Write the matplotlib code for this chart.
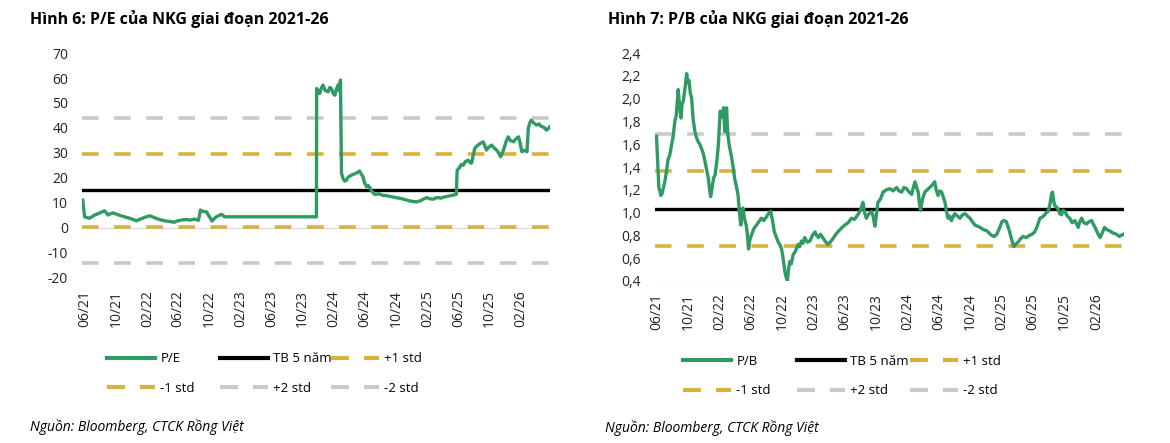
import pandas as pd
import matplotlib
matplotlib.use("Agg")
import matplotlib.pyplot as plt
import matplotlib.dates as mdates
from matplotlib.lines import Line2D
from matplotlib.ticker import FuncFormatter

plt.rcParams['font.family'] = ['Open Sans', 'DejaVu Sans']

# P/E cua NKG (doc tu hinh)
pe_dates = ['2021-05-25', '2021-06-01', '2021-06-10', '2021-06-20', '2021-07-01', '2021-07-10',
            '2021-07-25', '2021-08-05', '2021-08-18', '2021-08-25', '2021-09-01', '2021-09-10',
            '2021-09-20', '2021-10-05', '2021-10-22', '2021-11-10', '2021-11-28', '2021-12-20',
            '2022-01-10', '2022-01-25', '2022-02-11', '2022-02-28', '2022-03-12', '2022-03-28',
            '2022-04-15', '2022-05-01', '2022-05-18', '2022-06-01', '2022-06-14', '2022-07-01',
            '2022-07-20', '2022-08-04', '2022-08-20', '2022-08-28', '2022-09-08', '2022-09-20',
            '2022-10-01', '2022-10-12', '2022-10-20', '2022-10-29', '2022-11-10', '2022-11-18',
            '2022-12-01', '2023-11-24', '2023-11-25', '2023-11-30', '2023-12-07', '2023-12-13',
            '2023-12-20', '2023-12-28', '2024-01-09', '2024-01-15', '2024-01-22', '2024-01-28',
            '2024-02-04', '2024-02-10', '2024-02-17', '2024-02-22', '2024-02-26', '2024-03-01',
            '2024-03-08', '2024-03-14', '2024-03-20', '2024-03-28', '2024-04-09', '2024-04-20',
            '2024-05-01', '2024-05-11', '2024-05-17', '2024-05-24', '2024-05-30', '2024-06-07',
            '2024-06-13', '2024-06-20', '2024-06-28', '2024-07-09', '2024-07-25', '2024-08-10',
            '2024-08-24', '2024-09-15', '2024-10-01', '2024-10-16', '2024-11-05', '2024-11-25',
            '2024-12-10', '2024-12-20', '2025-01-05', '2025-01-15', '2025-01-29', '2025-02-10',
            '2025-02-24', '2025-03-05', '2025-03-13', '2025-03-25', '2025-04-05', '2025-04-15',
            '2025-04-28', '2025-05-11', '2025-05-24', '2025-05-27', '2025-06-05', '2025-06-12',
            '2025-06-20', '2025-06-28', '2025-07-09', '2025-07-15', '2025-07-22', '2025-07-28',
            '2025-08-04', '2025-08-10', '2025-08-17', '2025-08-26', '2025-09-06', '2025-09-12',
            '2025-09-19', '2025-09-27', '2025-10-09', '2025-10-18', '2025-10-28', '2025-11-05',
            '2025-11-13', '2025-11-22', '2025-11-30', '2025-12-06', '2025-12-13', '2025-12-20',
            '2026-01-02', '2026-01-12', '2026-01-22', '2026-01-28', '2026-02-04', '2026-02-14',
            '2026-02-24', '2026-03-01', '2026-03-07', '2026-03-13', '2026-03-22', '2026-04-02',
            '2026-04-12', '2026-04-20', '2026-04-28', '2026-05-05', '2026-05-11', '2026-05-17',
            '2026-05-24']
pe_values = [11.0, 4.3, 4.0, 3.7, 4.4, 5.0,
             5.6, 6.1, 6.7, 5.9, 5.0, 5.5,
             5.9, 5.3, 4.7, 4.1, 3.6, 2.7,
             3.6, 4.2, 4.7, 4.0, 3.5, 3.0,
             2.6, 2.4, 2.1, 2.7, 3.0, 3.2,
             3.0, 3.4, 2.9, 7.0, 6.4, 6.3,
             4.5, 2.6, 3.5, 4.3, 4.9, 5.3,
             4.3, 4.3, 55.8, 54.6, 53.8, 56.0,
             57.2, 55.0, 54.5, 56.2, 55.8, 54.0,
             53.1, 55.5, 57.2, 54.8, 59.2, 21.7,
             19.5, 18.6, 19.0, 20.3, 21.0, 21.5,
             22.0, 22.7, 21.5, 20.4, 18.0, 16.4,
             16.9, 16.0, 14.5, 13.3, 13.5, 12.9,
             12.8, 12.3, 12.0, 11.7, 11.2, 10.6,
             10.4, 10.3, 10.8, 11.4, 12.0, 11.5,
             11.4, 11.9, 12.0, 11.8, 12.2, 12.4,
             12.7, 13.0, 13.3, 23.0, 24.0, 25.3,
             25.0, 26.5, 27.0, 26.2, 25.8, 28.5,
             31.8, 32.5, 33.1, 33.8, 34.4, 32.8,
             31.1, 32.2, 33.1, 32.0, 31.1, 30.0,
             28.4, 30.5, 33.1, 35.0, 36.4, 35.0,
             34.4, 35.6, 36.4, 34.0, 30.4, 31.0,
             30.4, 39.8, 42.0, 43.1, 42.0, 41.1,
             41.6, 40.6, 40.4, 39.8, 39.1, 39.6,
             40.4]
pe_mean = 14.9
pe_std = 14.6

# P/B cua NKG
pb_dates = ['2021-06-01', '2021-06-04', '2021-06-07', '2021-06-10', '2021-06-14', '2021-06-18',
            '2021-06-23', '2021-06-28', '2021-07-03', '2021-07-09', '2021-07-16', '2021-07-22',
            '2021-07-29', '2021-08-04', '2021-08-11', '2021-08-17', '2021-08-24', '2021-08-29',
            '2021-09-04', '2021-09-08', '2021-09-13', '2021-09-20', '2021-09-26', '2021-09-30',
            '2021-10-05', '2021-10-10', '2021-10-15', '2021-10-21', '2021-10-28', '2021-11-03',
            '2021-11-10', '2021-11-16', '2021-11-23', '2021-11-29', '2021-12-06', '2021-12-12',
            '2021-12-19', '2021-12-24', '2021-12-28', '2022-01-03', '2022-01-08', '2022-01-14',
            '2022-01-21', '2022-01-27', '2022-02-03', '2022-02-09', '2022-02-16', '2022-02-19',
            '2022-02-22', '2022-02-25', '2022-02-28', '2022-03-02', '2022-03-05', '2022-03-11',
            '2022-03-18', '2022-03-24', '2022-03-31', '2022-04-06', '2022-04-13', '2022-04-18',
            '2022-04-24', '2022-04-28', '2022-05-02', '2022-05-08', '2022-05-15', '2022-05-19',
            '2022-05-24', '2022-05-29', '2022-06-04', '2022-06-14', '2022-06-24', '2022-07-03',
            '2022-07-13', '2022-07-22', '2022-08-01', '2022-08-09', '2022-08-18', '2022-08-25',
            '2022-09-01', '2022-09-08', '2022-09-16', '2022-09-22', '2022-09-29', '2022-10-05',
            '2022-10-12', '2022-10-17', '2022-10-22', '2022-10-26', '2022-10-31', '2022-11-06',
            '2022-11-13', '2022-11-22', '2022-12-02', '2022-12-08', '2022-12-15', '2022-12-21',
            '2022-12-28', '2023-01-07', '2023-01-17', '2023-01-27', '2023-02-06', '2023-02-12',
            '2023-02-19', '2023-02-27', '2023-03-08', '2023-03-17', '2023-03-27', '2023-04-06',
            '2023-04-16', '2023-04-25', '2023-05-05', '2023-05-18', '2023-06-01', '2023-06-14',
            '2023-06-27', '2023-07-09', '2023-07-22', '2023-08-01', '2023-08-11', '2023-08-17',
            '2023-08-24', '2023-09-03', '2023-09-13', '2023-09-20', '2023-09-26', '2023-10-02',
            '2023-10-08', '2023-10-18', '2023-10-28', '2023-11-10', '2023-11-23', '2023-12-06',
            '2023-12-19', '2023-12-29', '2024-01-08', '2024-01-17', '2024-01-27', '2024-02-06',
            '2024-02-16', '2024-02-22', '2024-02-29', '2024-03-06', '2024-03-12', '2024-03-17',
            '2024-03-21', '2024-03-29', '2024-04-07', '2024-04-16', '2024-04-26', '2024-05-05',
            '2024-05-15', '2024-05-21', '2024-05-28', '2024-06-04', '2024-06-11', '2024-06-17',
            '2024-06-24', '2024-06-30', '2024-07-06', '2024-07-12', '2024-07-19', '2024-07-25',
            '2024-08-01', '2024-08-11', '2024-08-21', '2024-08-31', '2024-09-10', '2024-09-19',
            '2024-09-29', '2024-10-08', '2024-10-18', '2024-10-28', '2024-11-07', '2024-11-20',
            '2024-12-03', '2024-12-12', '2024-12-22', '2025-01-01', '2025-01-11', '2025-01-21',
            '2025-01-31', '2025-02-08', '2025-02-17', '2025-02-23', '2025-03-02', '2025-03-10',
            '2025-03-18', '2025-03-25', '2025-04-03', '2025-04-13', '2025-04-23', '2025-05-05',
            '2025-05-18', '2025-05-28', '2025-06-07', '2025-06-17', '2025-06-27', '2025-07-06',
            '2025-07-16', '2025-07-22', '2025-07-29', '2025-08-06', '2025-08-11', '2025-08-15',
            '2025-08-20', '2025-08-24', '2025-08-30', '2025-09-06', '2025-09-12', '2025-09-19',
            '2025-09-25', '2025-10-02', '2025-10-11', '2025-10-21', '2025-10-30', '2025-11-10',
            '2025-11-16', '2025-11-23', '2025-11-29', '2025-12-06', '2025-12-15', '2025-12-25',
            '2026-01-04', '2026-01-14', '2026-01-20', '2026-01-27', '2026-02-06', '2026-02-16',
            '2026-02-24', '2026-03-05', '2026-03-14', '2026-03-24', '2026-04-07', '2026-04-20',
            '2026-05-01', '2026-05-09', '2026-05-18']
pb_values = [1.67, 1.52, 1.36, 1.22, 1.19, 1.15,
             1.17, 1.22, 1.27, 1.35, 1.47, 1.50,
             1.59, 1.66, 1.80, 1.86, 2.08, 1.95,
             1.83, 1.95, 1.98, 2.10, 2.22, 2.14,
             2.16, 2.05, 2.01, 1.82, 1.71, 1.66,
             1.62, 1.60, 1.56, 1.52, 1.45, 1.38,
             1.30, 1.20, 1.14, 1.22, 1.30, 1.33,
             1.45, 1.60, 1.89, 1.84, 1.92, 1.78,
             1.71, 1.88, 1.92, 1.80, 1.68, 1.58,
             1.50, 1.42, 1.30, 1.24, 1.16, 1.02,
             0.89, 0.98, 1.04, 0.95, 0.89, 0.82,
             0.68, 0.76, 0.80, 0.86, 0.89, 0.92,
             0.95, 0.93, 0.96, 0.99, 1.01, 0.93,
             0.83, 0.79, 0.74, 0.72, 0.68, 0.60,
             0.48, 0.43, 0.40, 0.50, 0.57, 0.55,
             0.63, 0.66, 0.72, 0.70, 0.75, 0.73,
             0.78, 0.74, 0.75, 0.80, 0.83, 0.80,
             0.78, 0.81, 0.78, 0.75, 0.72, 0.74,
             0.77, 0.80, 0.83, 0.86, 0.89, 0.91,
             0.95, 0.94, 0.98, 1.02, 1.09, 1.00,
             0.95, 0.99, 1.01, 0.96, 0.88, 0.98,
             1.09, 1.12, 1.18, 1.20, 1.21, 1.19,
             1.22, 1.19, 1.18, 1.22, 1.21, 1.18,
             1.16, 1.22, 1.27, 1.22, 1.18, 1.08,
             1.02, 1.12, 1.18, 1.20, 1.22, 1.24,
             1.27, 1.20, 1.15, 1.19, 1.18, 1.14,
             1.09, 1.01, 0.95, 0.97, 0.93, 0.96,
             0.99, 0.97, 0.95, 0.98, 0.99, 0.97,
             0.95, 0.92, 0.89, 0.88, 0.87, 0.85,
             0.84, 0.82, 0.80, 0.79, 0.81, 0.86,
             0.92, 0.93, 0.92, 0.88, 0.83, 0.76,
             0.70, 0.72, 0.74, 0.77, 0.79, 0.78,
             0.80, 0.81, 0.83, 0.88, 0.95, 0.96,
             0.98, 1.00, 1.01, 1.08, 1.16, 1.18,
             1.10, 1.06, 1.05, 1.03, 0.99, 0.98,
             1.02, 1.01, 0.97, 0.95, 0.91, 0.93,
             0.90, 0.87, 0.92, 0.95, 0.91, 0.90,
             0.92, 0.93, 0.90, 0.87, 0.82, 0.78,
             0.82, 0.87, 0.85, 0.84, 0.82, 0.81,
             0.79, 0.80, 0.81]
pb_mean = 1.033
pb_std = 0.328

tick_dates = ['2021-06-01', '2021-10-01', '2022-02-01', '2022-06-01', '2022-10-01',
              '2023-02-01', '2023-06-01', '2023-10-01', '2024-02-01', '2024-06-01',
              '2024-10-01', '2025-02-01', '2025-06-01', '2025-10-01', '2026-02-01']

GREEN = '#2f9a63'
GOLD = '#d9b13b'
GREY = '#c9c9c9'
DASH = (4.6, 4.3)
LEG_DASH = (4.3, 3.6)


def draw(ax, dates, values, mean, std, ylim, yticks, fmt, xlim, axis_y):
    d = pd.to_datetime(dates)
    ax.axhline(axis_y, color='#d9d9d9', lw=0.8, zorder=1)
    ax.axhline(mean + 2 * std, color=GREY, lw=2.6, dashes=DASH, zorder=2)
    ax.axhline(mean - 2 * std, color=GREY, lw=2.6, dashes=DASH, zorder=2)
    ax.axhline(mean + std, color=GOLD, lw=2.6, dashes=DASH, zorder=2)
    ax.axhline(mean - std, color=GOLD, lw=2.6, dashes=DASH, zorder=2)
    ax.axhline(mean, color='black', lw=2.4, zorder=3)
    ax.plot(d, values, color=GREEN, lw=2.4, zorder=4, solid_joinstyle='round')
    ax.set_ylim(*ylim)
    ax.set_yticks(yticks)
    ax.yaxis.set_major_formatter(FuncFormatter(fmt))
    ax.set_xlim(pd.Timestamp(xlim[0]), pd.Timestamp(xlim[1]))
    ax.set_xticks(pd.to_datetime(tick_dates))
    ax.xaxis.set_major_formatter(mdates.DateFormatter('%m/%y'))
    for lab in ax.get_xticklabels():
        lab.set_rotation(90)
    ax.tick_params(axis='both', length=0, labelsize=10, colors='#222222')
    ax.tick_params(axis='x', pad=9)
    ax.tick_params(axis='y', pad=10)
    for s in ax.spines.values():
        s.set_visible(False)


def add_legend(fig, name, xs, yc):
    cols = [
        [(Line2D([], [], color=GREEN, lw=3.0), name),
         (Line2D([], [], color=GOLD, lw=3.0, dashes=LEG_DASH), '-1 std')],
        [(Line2D([], [], color='black', lw=3.0), 'TB 5 năm'),
         (Line2D([], [], color=GREY, lw=3.0, dashes=LEG_DASH), '+2 std')],
        [(Line2D([], [], color=GOLD, lw=3.0, dashes=LEG_DASH), '+1 std'),
         (Line2D([], [], color=GREY, lw=3.0, dashes=LEG_DASH), '-2 std')],
    ]
    for x, col in zip(xs, cols):
        fig.legend([c[0] for c in col], [c[1] for c in col], loc='center left',
                   bbox_to_anchor=(x / 1170, 1 - yc / 443), frameon=False, fontsize=9.5,
                   handlelength=3.6, handletextpad=0.45, labelspacing=1.25,
                   borderpad=0, borderaxespad=0)


fig = plt.figure(figsize=(11.7, 4.43), dpi=100)
ax1 = fig.add_axes([0.0701, 0.374, 0.400, 0.506])
ax2 = fig.add_axes([0.5598, 0.366, 0.401, 0.514])

draw(ax1, pe_dates, pe_values, pe_mean, pe_std, (-20, 70), range(-20, 71, 10),
     lambda v, p: f'{v:.0f}', ('2021-05-22', '2026-05-25'), 0)
draw(ax2, pb_dates, pb_values, pb_mean, pb_std, (0.4, 2.4),
     [0.4 + 0.2 * i for i in range(11)],
     lambda v, p: f'{v:.1f}'.replace('.', ','), ('2021-05-26', '2026-05-20'), 0.4)

add_legend(fig, 'P/E', [107, 220, 331], 373.5)
add_legend(fig, 'P/B', [683, 797, 910], 376)

fig.text(30 / 1170, 1 - 19 / 443, 'Hình 6: P/E của NKG giai đoạn 2021-26', fontsize=11.5,
         fontweight='bold', va='center', ha='left')
fig.text(608 / 1170, 1 - 19 / 443, 'Hình 7: P/B của NKG giai đoạn 2021-26', fontsize=11.5,
         fontweight='bold', va='center', ha='left')
fig.text(30 / 1170, 1 - 427 / 443, 'Nguồn: Bloomberg, CTCK Rồng Việt', fontsize=10,
         style='italic', va='center', ha='left')
fig.text(605 / 1170, 1 - 428 / 443, 'Nguồn: Bloomberg, CTCK Rồng Việt', fontsize=10,
         style='italic', va='center', ha='left')

fig.savefig('out.png', dpi=100)
